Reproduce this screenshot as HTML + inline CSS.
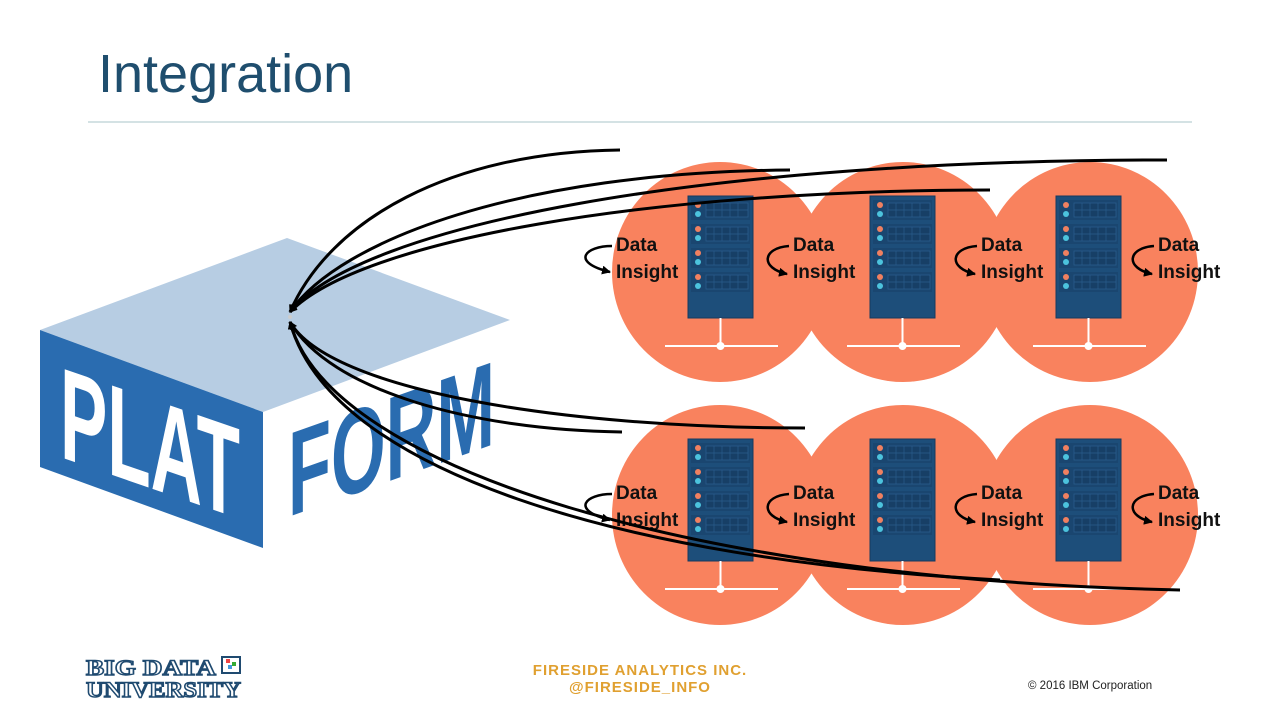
<!DOCTYPE html>
<html><head><meta charset="utf-8"><style>
html,body{margin:0;padding:0;background:#fff;}
svg{display:block;}
</style></head><body>
<svg width="1280" height="720" viewBox="0 0 1280 720" xmlns="http://www.w3.org/2000/svg" font-family="Liberation Sans, sans-serif">
<defs>
<marker id="ah" markerWidth="8" markerHeight="8" refX="7" refY="4" orient="auto" markerUnits="userSpaceOnUse"><path d="M0,0 L8,4 L0,8 z" fill="#000"/></marker>
<marker id="sa" markerWidth="9" markerHeight="9" refX="8" refY="4.5" orient="auto" markerUnits="userSpaceOnUse"><path d="M0,0 L9,4.5 L0,9 z" fill="#000"/></marker>
<g id="unit"><rect x="3" y="4" width="59" height="20" fill="#1a4670"/><circle cx="10" cy="9" r="3" fill="#f08060"/><circle cx="10" cy="18" r="3" fill="#4cc3dd"/><rect x="18" y="7" width="42" height="14" fill="#173f66" stroke="#2a5d8c" stroke-width="0.8"/><path d="M26,7V21M34,7V21M42,7V21M50,7V21M18,14H60" stroke="#2a5d8c" stroke-width="0.7"/></g>
<g id="srv">
<rect x="0" y="0" width="65" height="122" fill="#1d4e7a" stroke="#16395e" stroke-width="1"/>
<use href="#unit"/>
<use href="#unit" y="24"/>
<use href="#unit" y="48"/>
<use href="#unit" y="72"/>
<line x1="32.5" y1="122" x2="32.5" y2="150" stroke="#fff" stroke-width="2"/>
<line x1="-23" y1="150" x2="90" y2="150" stroke="#fff" stroke-width="2"/>
<circle cx="32.5" cy="150" r="4" fill="#fff"/>
</g>
</defs>

<text x="98" y="92" font-size="54" fill="#1f4e6e">Integration</text>
<line x1="88" y1="122" x2="1192" y2="122" stroke="#a9c6c8" stroke-width="1"/>

<!-- platform box -->
<polygon points="40,330 287,238 510,320 263,412" fill="#b7cde3"/>
<polygon points="40,330 263,412 263,548 40,467" fill="#2a6cb0"/>
<text transform="translate(60,457) skewY(19)" font-size="130" font-weight="bold" fill="#fff" textLength="180" lengthAdjust="spacingAndGlyphs">PLAT</text>
<text transform="translate(288,517) skewY(-19.5)" font-size="120" font-weight="bold" fill="#2a6cb0" textLength="207" lengthAdjust="spacingAndGlyphs">FORM</text>

<!-- circles -->
<g fill="#f9825e">
<ellipse cx="720" cy="272" rx="108" ry="110"/>
<ellipse cx="903" cy="272" rx="108" ry="110"/>
<ellipse cx="1090" cy="272" rx="108" ry="110"/>
<ellipse cx="720" cy="515" rx="108" ry="110"/>
<ellipse cx="903" cy="515" rx="108" ry="110"/>
<ellipse cx="1090" cy="515" rx="108" ry="110"/>
</g>
<use href="#srv" x="688" y="196"/>
<use href="#srv" x="870" y="196"/>
<use href="#srv" x="1056" y="196"/>
<use href="#srv" x="688" y="439"/>
<use href="#srv" x="870" y="439"/>
<use href="#srv" x="1056" y="439"/>

<g font-family="Liberation Sans, DejaVu Sans, sans-serif" font-weight="bold" font-size="19" fill="#111">
<text x="616" y="251">Data</text><text x="616" y="278">Insight</text>
<text x="793" y="251">Data</text><text x="793" y="278">Insight</text>
<text x="981" y="251">Data</text><text x="981" y="278">Insight</text>
<text x="1158" y="251">Data</text><text x="1158" y="278">Insight</text>
<text x="616" y="499">Data</text><text x="616" y="526">Insight</text>
<text x="793" y="499">Data</text><text x="793" y="526">Insight</text>
<text x="981" y="499">Data</text><text x="981" y="526">Insight</text>
<text x="1158" y="499">Data</text><text x="1158" y="526">Insight</text>
</g>
<g fill="none" stroke="#000" stroke-width="2.5" marker-end="url(#sa)">
<path d="M612,246 C585,246 570,262 610,272"/>
<path d="M789,246 C762,248 760,268 787,274"/>
<path d="M977,246 C950,248 948,268 975,274"/>
<path d="M1154,246 C1127,248 1125,268 1152,274"/>
<path d="M612,494 C585,494 570,510 610,520"/>
<path d="M789,494 C762,496 760,516 787,522"/>
<path d="M977,494 C950,496 948,516 975,522"/>
<path d="M1154,494 C1127,496 1125,516 1152,522"/>
</g>

<!-- connectors -->
<g fill="none" stroke="#000" stroke-width="3" marker-end="url(#ah)">
<path d="M620,150 C450,152 330,220 290,312"/>
<path d="M790,170 C520,172 340,240 290,312"/>
<path d="M1167,160 C700,160 360,225 290,312"/>
<path d="M990,190 C650,190 360,240 290,312"/>
<path d="M805,428 C560,428 330,390 290,322"/>
<path d="M622,432 C470,430 330,390 290,322"/>
<path d="M1000,580 C620,560 330,470 290,322"/>
<path d="M1180,590 C700,580 330,470 290,322"/>
</g>
<circle cx="290" cy="317" r="2" fill="#ccc"/>

<!-- footer -->
<g font-family="Liberation Serif, serif" font-weight="bold" font-size="22" fill="#fff" stroke="#1f4a70" stroke-width="1.4">
<text x="86" y="675" textLength="130" lengthAdjust="spacingAndGlyphs">BIG DATA</text>
<text x="86" y="697" textLength="155" lengthAdjust="spacingAndGlyphs">UNIVERSITY</text>
</g>
<rect x="222" y="657" width="18" height="16" fill="none" stroke="#1f4a70" stroke-width="2"/>
<rect x="226" y="659" width="4" height="4" fill="#e44"/><rect x="232" y="662" width="4" height="4" fill="#3a3"/><rect x="228" y="665" width="4" height="4" fill="#49d"/>
<g font-family="Liberation Sans, sans-serif" font-weight="bold" font-size="15" fill="#e0a030" text-anchor="middle" letter-spacing="1">
<text x="640" y="675">FIRESIDE ANALYTICS INC.</text>
<text x="640" y="692">@FIRESIDE_INFO</text>
</g>
<text x="1028" y="689" font-size="11.5" fill="#222">© 2016 IBM Corporation</text>
</svg>
</body></html>
